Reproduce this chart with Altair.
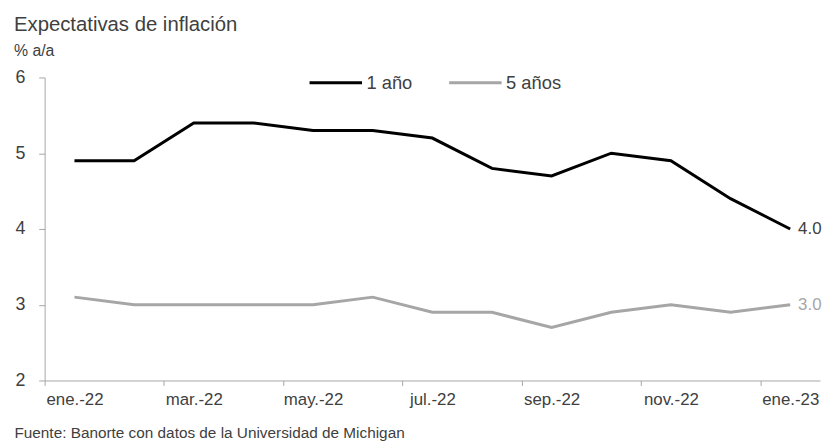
import altair as alt
import pandas as pd

meses = ["ene.-22", "feb.-22", "mar.-22", "abr.-22", "may.-22", "jun.-22", "jul.-22",
         "ago.-22", "sep.-22", "oct.-22", "nov.-22", "dic.-22", "ene.-23"]
uno = [4.9, 4.9, 5.4, 5.4, 5.3, 5.3, 5.2, 4.8, 4.7, 5.0, 4.9, 4.4, 4.0]
cinco = [3.1, 3.0, 3.0, 3.0, 3.0, 3.1, 2.9, 2.9, 2.7, 2.9, 3.0, 2.9, 3.0]
series = ["1 año", "5 años"]
colores = ["#000000", "#A6A6A6"]
colores_txt = ["#404040", "#A6A6A6"]
etiquetas_eje = meses[::2]
y_ticks = [2, 3, 4, 5, 6]

rows = []
for i, m in enumerate(meses):
    rows.append({"i": i, "mes": m, "serie": series[0], "valor": uno[i]})
    rows.append({"i": i, "mes": m, "serie": series[1], "valor": cinco[i]})
df = pd.DataFrame(rows)
last = df[df["i"] == len(meses) - 1].copy()
last["txt"] = last["valor"].map(lambda v: f"{v:.1f}")

FONT = "Liberation Sans"
TXT = "#404040"
AX = "#A6A6A6"
W, H = 783, 306
BAND = W / len(meses)

xq = alt.X("i:Q", scale=alt.Scale(domain=[-0.5, len(meses) - 0.5], nice=False, zero=False), axis=None)
yq = alt.Y("valor:Q", scale=alt.Scale(domain=[2, 6], nice=False, zero=False),
           axis=alt.Axis(values=y_ticks, grid=False, title=None, domainColor=AX, tickColor=AX,
                         tickSize=6, labelPadding=14, labelFontSize=18, labelFont=FONT,
                         labelColor=TXT, format="d"))

lines = alt.Chart(df).mark_line(strokeWidth=3).encode(
    x=xq, y=yq,
    color=alt.Color("serie:N", scale=alt.Scale(domain=series, range=colores),
                    legend=alt.Legend(orient="none", legendX=266, legendY=-23, direction="horizontal",
                                      title=None, symbolType="stroke", symbolSize=2809,
                                      symbolStrokeWidth=3, labelFontSize=18.5, labelFont=FONT,
                                      labelColor=TXT, labelOffset=3, columnPadding=30)),
)

ends = alt.Chart(last).mark_text(align="left", dx=8, fontSize=17, font=FONT).encode(
    x=xq, y=yq, text="txt:N",
    color=alt.Color("serie:N", scale=alt.Scale(domain=series, range=colores_txt), legend=None),
)

axis_layer = alt.Chart(pd.DataFrame({"mes": meses})).mark_tick(opacity=0).encode(
    x=alt.X("mes:N", sort=meses,
            scale=alt.Scale(type="band", domain=meses, paddingInner=0, paddingOuter=0),
            axis=alt.Axis(values=etiquetas_eje, tickOffset=-BAND / 2, labelOffset=BAND / 2,
                          labelAngle=0,
                          domainColor=AX, tickColor=AX, tickSize=5, labelPadding=6,
                          labelFontSize=17, labelFont=FONT, labelColor=TXT,
                          title="Fuente: Banorte con datos de la Universidad de Michigan",
                          titleX=-31, titleY=58, titleAlign="left", titleAnchor="start",
                          titleBaseline="alphabetic", titleFont=FONT, titleFontSize=15.5,
                          titleFontWeight="normal", titleColor=TXT)),
)

chart = alt.layer(lines, ends, axis_layer).resolve_scale(x="independent", color="independent").properties(
    width=W, height=H,
    padding={"left": 6, "top": 5, "right": 0, "bottom": 0},
    title=alt.Title("Expectativas de inflación", subtitle="% a/a", anchor="start", frame="bounds",
                    font=FONT, fontSize=20.5, fontWeight="normal", color=TXT,
                    subtitleFont=FONT, subtitleFontSize=16, subtitleColor=TXT,
                    subtitlePadding=7, offset=-4),
).configure_view(stroke=None)

chart.save("out.html", embed_options={"renderer": "svg", "actions": False})
